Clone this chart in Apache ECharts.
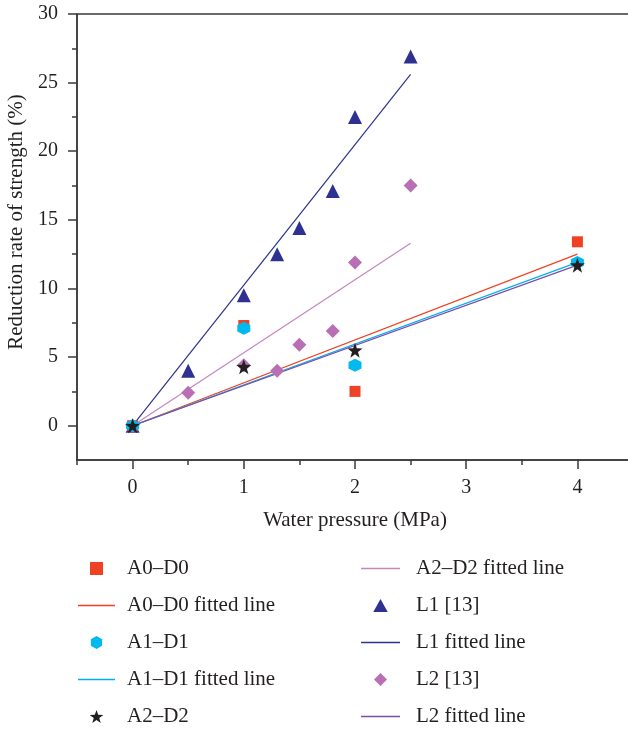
<!DOCTYPE html>
<html><head><meta charset="utf-8">
<script src="https://cdn.jsdelivr.net/npm/echarts@6/dist/echarts.min.js"></script>
<style>html,body{margin:0;padding:0;background:#fff}#c{width:628px;height:731px}</style>
</head><body><div id="c"></div>
<script>
// Data
const a0d0 = [[0,0],[1,7.3],[2,2.5],[4,13.4]];
const a1d1 = [[0,0],[1,7.1],[2,4.4],[4,11.9]];
const a2d2 = [[0,0],[1,4.3],[2,5.5],[4,11.7]];
const l1 = [[0,0],[0.5,4.0],[1,9.5],[1.3,12.5],[1.5,14.4],[1.8,17.1],[2,22.5],[2.5,26.9]];
const l2 = [[0,0],[0.5,2.4],[1,4.4],[1.3,4.0],[1.5,5.9],[1.8,6.9],[2,11.9],[2.5,17.5]];
const fitA0D0 = [[0,0],[4,12.5]];
const fitA1D1 = [[0,0],[4,11.9]];
const fitA2D2 = [[0,0],[2.5,13.3]];
const fitL1 = [[0,0],[2.5,25.6]];
const fitL2 = [[0,0],[4,11.7]];
const xTickLabels = [0,1,2,3,4];
const xMinorTicks = [-0.5,0.5,1.5,2.5,3.5];
const yTickLabels = [0,5,10,15,20,25,30];
const yMinorTicks = [2.5,7.5,12.5,17.5,22.5,27.5];

const FONT = 'Liberation Serif';
const TXT = '#231f20';
const AX = '#3a3a3a';
const hexagon = 'path://M0,-10 L8.66,-5 L8.66,5 L0,10 L-8.66,5 L-8.66,-5 Z';
const star = 'path://M0,-10 L2.351,-3.236 L9.511,-3.09 L3.804,1.236 L5.878,8.09 L0,4 L-5.878,8.09 L-3.804,1.236 L-9.511,-3.09 L-2.351,-3.236 Z';
const square = 'path://M0,0 L10,0 L10,10 L0,10 Z';
const triangle = 'path://M0,-10 L10,8 L-10,8 Z';
const diamond = 'path://M0,-10 L10,0 L0,10 L-10,0 Z';
const lineIcon = 'path://M0,0 L37,0 L37,1.3 L0,1.3 Z';

const chart = echarts.init(document.getElementById('c'), null, {renderer:'canvas'});
const lineS = (name, data, color) => ({
  name, type:'line', data, symbol:'none', showSymbol:false, silent:true,
  lineStyle:{color, width:1.2}, itemStyle:{color}, z:2, animation:false
});
const scatS = (name, data, color, symbol, size) => ({
  name, type:'scatter', data, symbol, symbolSize:size, itemStyle:{color, opacity:1}, z:3, animation:false
});
const legendCommon = {
  orient:'vertical', itemHeight:13, itemGap:16, symbolKeepAspect:true, padding:0,
  selectedMode:false
};
chart.setOption({
  animation:false,
  grid:{left:77, top:14, right:-5, bottom:271, outerBoundsMode:'none', containLabel:false,
        show:true, borderColor:AX, borderWidth:1.5, backgroundColor:'transparent'},
  xAxis:[{
    type:'value', min:-0.5, max:4.5, position:'bottom',
    axisLine:{show:true, onZero:false, lineStyle:{color:AX, width:1.5}},
    axisTick:{show:true, customValues:xTickLabels, length:9, lineStyle:{color:AX, width:1.5}},
    axisLabel:{customValues:xTickLabels, margin:18, fontFamily:FONT, fontSize:20, color:TXT},
    splitLine:{show:false},
    name:'Water pressure (MPa)', nameLocation:'middle', nameGap:50,
    nameTextStyle:{fontFamily:FONT, fontSize:21, color:TXT, padding:[0,0,0,0]}
  },{
    type:'value', min:-0.5, max:4.5, position:'bottom',
    axisLine:{show:false, onZero:false},
    axisTick:{show:true, customValues:xMinorTicks, length:5, lineStyle:{color:AX, width:1.5}},
    axisLabel:{show:false}, splitLine:{show:false}
  }],
  yAxis:[{
    type:'value', min:-2.5, max:30, position:'left',
    axisLine:{show:true, onZero:false, lineStyle:{color:AX, width:1.5}},
    axisTick:{show:true, customValues:yTickLabels, length:9, lineStyle:{color:AX, width:1.5}},
    axisLabel:{customValues:yTickLabels, margin:19, fontFamily:FONT, fontSize:20, color:TXT},
    splitLine:{show:false},
    name:'Reduction rate of strength (%)', nameLocation:'middle', nameGap:50,
    nameTextStyle:{fontFamily:FONT, fontSize:21, color:TXT, padding:[0,0,0,30]}
  },{
    type:'value', min:-2.5, max:30, position:'left',
    axisLine:{show:false, onZero:false},
    axisTick:{show:true, customValues:yMinorTicks, length:5, lineStyle:{color:AX, width:1.5}},
    axisLabel:{show:false}, splitLine:{show:false}
  }],
  legend:[
    Object.assign({left:78, top:558, itemWidth:37,
      textStyle:{fontFamily:FONT, fontSize:21, color:TXT, padding:[0,0,0,7]},
      data:[
      {name:'A0–D0', icon:square},
      {name:'A0–D0 fitted line', icon:lineIcon},
      {name:'A1–D1', icon:hexagon},
      {name:'A1–D1 fitted line', icon:lineIcon},
      {name:'A2–D2', icon:star}
    ]}, legendCommon),
    Object.assign({left:361, top:558, itemWidth:39,
      textStyle:{fontFamily:FONT, fontSize:21, color:TXT, padding:[0,0,0,11]},
      data:[
      {name:'A2–D2 fitted line', icon:lineIcon},
      {name:'L1 [13]', icon:triangle},
      {name:'L1 fitted line', icon:lineIcon},
      {name:'L2 [13]', icon:diamond},
      {name:'L2 fitted line', icon:lineIcon}
    ]}, legendCommon)
  ],
  series:[
    lineS('A0–D0 fitted line', fitA0D0, '#ef4123'),
    lineS('A1–D1 fitted line', fitA1D1, '#00aeef'),
    lineS('A2–D2 fitted line', fitA2D2, '#c386c1'),
    lineS('L1 fitted line', fitL1, '#2e3192'),
    lineS('L2 fitted line', fitL2, '#7a4ea6'),
    scatS('L1 [13]', l1, '#2e3192', 'triangle', 14),
    scatS('L2 [13]', l2, '#b86fb3', 'diamond', 14),
    scatS('A0–D0', a0d0, '#ef4123', 'rect', 11),
    scatS('A1–D1', a1d1, '#00b9ef', hexagon, 13),
    scatS('A2–D2', a2d2, '#231f20', star, 15)
  ]
});
</script></body></html>
